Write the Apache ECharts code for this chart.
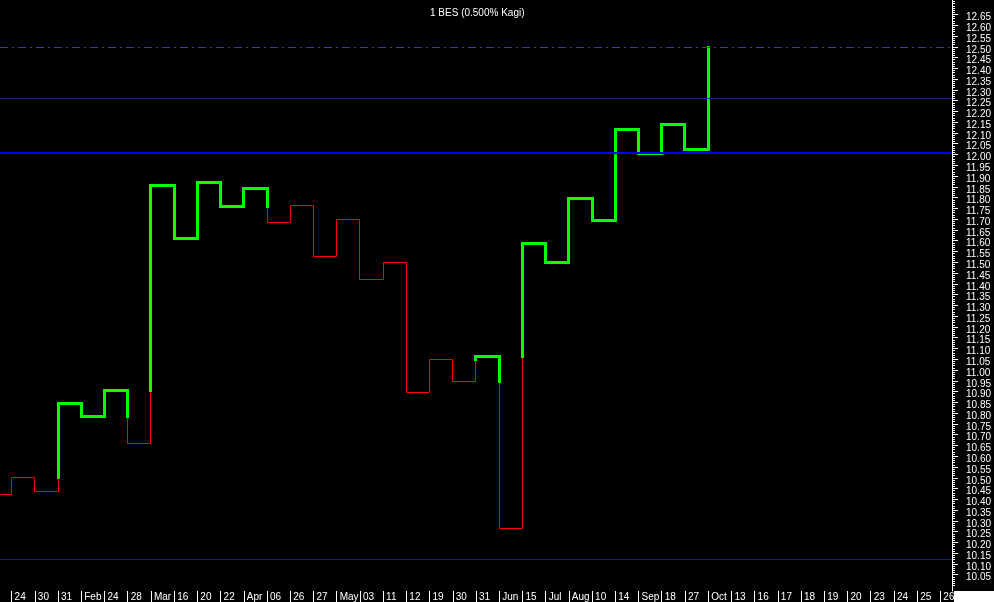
<!DOCTYPE html>
<html>
<head>
<meta charset="utf-8">
<script src="https://cdn.jsdelivr.net/npm/echarts@6/dist/echarts.min.js"></script>
<style>
html,body{margin:0;padding:0;background:#000;}
#chart{width:994px;height:602px;}
</style>
</head>
<body>
<div id="chart"></div>
<script>
// ---- data ----
const dates = ['24','30','31','Feb','24','28','Mar','16','20','22','Apr','06','26','27','May','03','11','12','19','30','31','Jun','15','Jul','Aug','10','14','Sep','18','27','Oct','13','16','17','18','19','20','23','24','25','26'];
const startLevel = 10.420;
const reversalLevels = [10.503,10.438,10.845,10.783,10.904,10.660,11.858,11.608,11.872,11.761,11.840,11.685,11.764,11.528,11.699,11.418,11.497,10.897,11.050,10.948,11.062,10.265,11.585,11.501,11.798,11.696,12.118,12.006,12.137,12.024,12.496];
const yTickLabels = ['10.05','10.10','10.15','10.20','10.25','10.30','10.35','10.40','10.45','10.50','10.55','10.60','10.65','10.70','10.75','10.80','10.85','10.90','10.95','11.00','11.05','11.10','11.15','11.20','11.25','11.30','11.35','11.40','11.45','11.50','11.55','11.60','11.65','11.70','11.75','11.80','11.85','11.90','11.95','12.00','12.05','12.10','12.15','12.20','12.25','12.30','12.35','12.40','12.45','12.50','12.55','12.60','12.65'];
const refLines = [
  {value: 12.497, kind: 'dash'},
  {value: 12.256, kind: 'thin'},
  {value: 12.008, kind: 'main'},
  {value: 10.123, kind: 'thin'}
];
const titleText = '1 BES (0.500% Kagi)';

// ---- build kagi segments (in data space) ----
const yTicks = yTickLabels.map(Number);
const minorTicks = [];
for (let i = 0; i <= 275; i++) minorTicks.push(+(10.00 + i * 0.01).toFixed(2));

const segs = []; // [idx1, off1, v1, idx2, off2, v2, yang]
let state = 0; // 0 yin (thin red), 1 yang (thick green)
let cur = startLevel;
let prevHigh = null, prevLow = null;
segs.push([0, -0.5, cur, 0, 0, cur, state]);
for (let k = 0; k < reversalLevels.length; k++) {
  const nv = reversalLevels[k];
  if (nv > cur) {
    if (state === 0 && prevHigh !== null && nv > prevHigh) {
      segs.push([k, 0, cur, k, 0, prevHigh, 0]);
      segs.push([k, 0, prevHigh, k, 0, nv, 1]);
      state = 1;
    } else {
      segs.push([k, 0, cur, k, 0, nv, state]);
    }
    prevHigh = nv;
  } else {
    if (state === 1 && prevLow !== null && nv < prevLow) {
      segs.push([k, 0, cur, k, 0, prevLow, 1]);
      segs.push([k, 0, prevLow, k, 0, nv, 0]);
      state = 0;
    } else {
      segs.push([k, 0, cur, k, 0, nv, state]);
    }
    prevLow = nv;
  }
  cur = nv;
  if (k < reversalLevels.length - 1) segs.push([k, 0, nv, k + 1, 0, nv, state]);
}
// draw thin first so thick overlays
segs.sort((a, b) => a[6] - b[6]);

const Y_MIN = 9.9745, Y_MAX = 12.717;
const FONT = '"Liberation Sans", Arial, sans-serif';
const crisp = v => Math.round(v - 0.5) + 0.5;

const chart = echarts.init(document.getElementById('chart'));
chart.setOption({
  backgroundColor: '#000',
  animation: false,
  title: {
    text: titleText, left: 425, top: 3,
    textStyle: {color: '#fff', fontSize: 10, fontWeight: 'normal', fontFamily: FONT}
  },
  grid: {left: 0, right: 39, top: 0, bottom: 11, containLabel: false},
  xAxis: {
    type: 'category', data: dates, boundaryGap: true,
    axisLine: {show: false},
    axisTick: {show: true, alignWithLabel: true, interval: 0, length: 11, lineStyle: {color: '#fff', width: 1}},
    axisLabel: {interval: 0, color: '#fff', fontSize: 10, fontFamily: FONT, align: 'left', margin: 1, padding: [0, 0, 0, 3]},
    splitLine: {show: false}
  },
  yAxis: [{
    type: 'value', position: 'right', min: Y_MIN, max: Y_MAX,
    axisLine: {show: true, lineStyle: {color: '#fff', width: 1}},
    axisTick: {show: true, customValues: yTicks, length: 6, lineStyle: {color: '#fff'}},
    axisLabel: {customValues: yTicks, color: '#fff', fontSize: 10, fontFamily: FONT, margin: 14, verticalAlign: 'top', lineHeight: 6, formatter: v => v.toFixed(2)},
    splitLine: {show: false}
  }, {
    type: 'value', position: 'right', min: Y_MIN, max: Y_MAX,
    axisLine: {show: false},
    axisTick: {show: true, customValues: minorTicks, length: 3, lineStyle: {color: '#fff'}},
    axisLabel: {show: false},
    splitLine: {show: false}
  }],
  graphic: [{
    type: 'rect', shape: {x: 954, y: 591, width: 40, height: 11}, style: {fill: '#fff'}, z: 100
  }],
  series: [{
    type: 'custom',
    coordinateSystem: 'cartesian2d',
    xAxisIndex: 0, yAxisIndex: 0,
    encode: {x: [0, 3], y: [2, 5]},
    data: segs,
    clip: false,
    z: 2,
    renderItem: function (params, api) {
      const w = api.size([1, 0])[0];
      const p1 = api.coord([api.value(0), api.value(2)]);
      const p2 = api.coord([api.value(3), api.value(5)]);
      const x1 = crisp(p1[0] + api.value(1) * w);
      const x2 = crisp(p2[0] + api.value(4) * w);
      const y1 = crisp(p1[1]);
      const y2 = crisp(p2[1]);
      const yang = api.value(6) === 1;
      return {
        type: 'line',
        shape: {x1: x1, y1: y1, x2: x2, y2: y2},
        style: {
          stroke: yang ? '#00ff00' : '#ff0000',
          lineWidth: yang ? 3 : 1,
          lineCap: yang ? 'square' : 'butt'
        }
      };
    }
  }, {
    type: 'line', data: [], z: 5,
    markLine: {
      silent: true, symbol: 'none', animation: false,
      label: {show: false},
      data: refLines.map(r => ({
        yAxis: r.value,
        lineStyle: r.kind === 'main' ? {color: '#0000ff', width: 2, type: 'solid'}
          : r.kind === 'dash' ? {color: '#3a3ab0', width: 1, type: [8, 4, 2, 4]}
          : {color: '#1a1a78', width: 1, type: 'solid'}
      }))
    }
  }]
});
</script>
</body>
</html>
